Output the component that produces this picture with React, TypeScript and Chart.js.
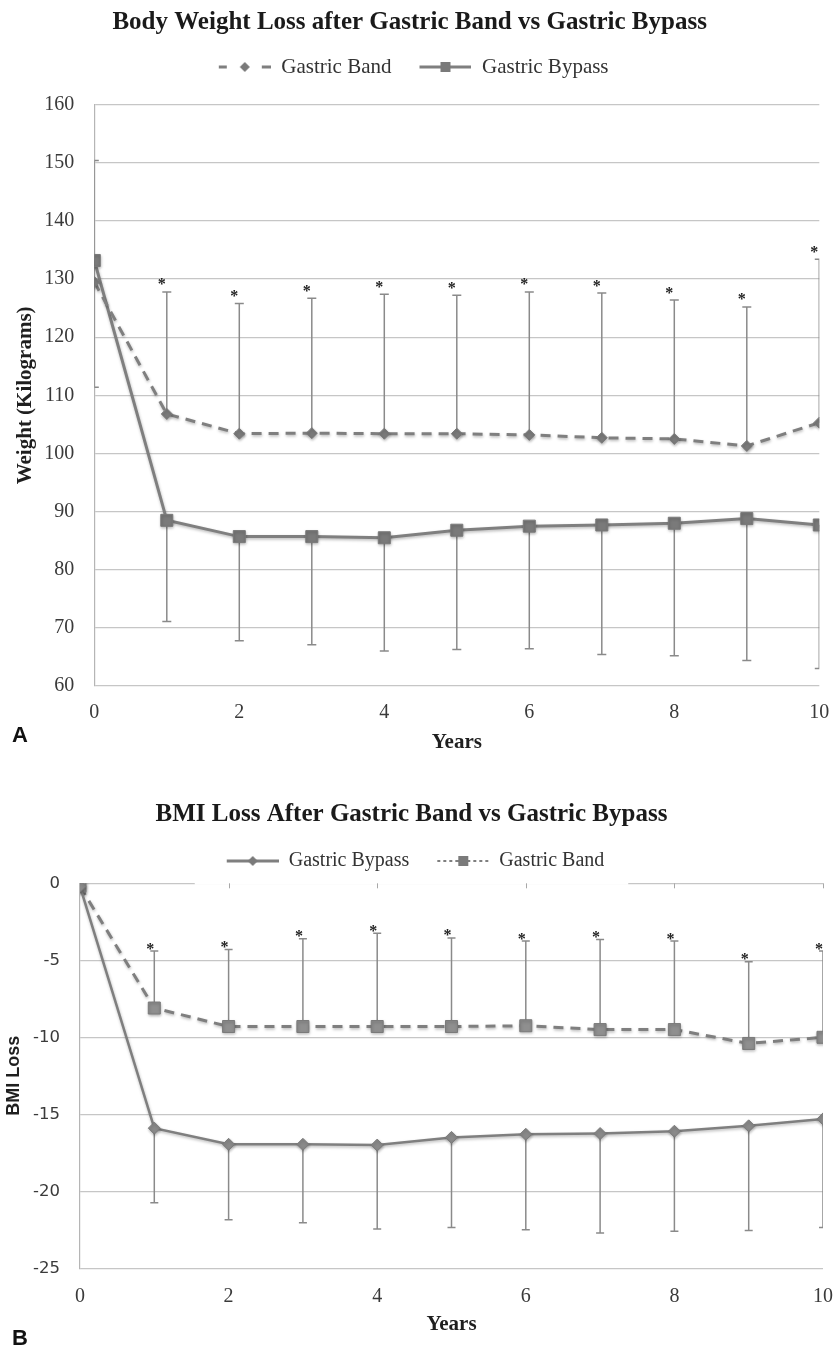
import React, { useEffect, useRef } from 'react';
import { Chart, registerables } from 'chart.js';

Chart.register(...registerables);

// ---------- data ----------
const years = [0, 1, 2, 3, 4, 5, 6, 7, 8, 9, 10];
const yearTicks = [0, 2, 4, 6, 8, 10];

// Panel A: body weight (kg)
const weightTicks = [60, 70, 80, 90, 100, 110, 120, 130, 140, 150, 160];
const bandWeight = [129.5, 106.8, 103.4, 103.5, 103.4, 103.4, 103.2, 102.7, 102.5, 101.3, 105.3];
const bandWeightUpper = [150.4, 127.8, 125.8, 126.7, 127.4, 127.2, 127.8, 127.6, 126.4, 125.2, 133.4];
const bypassWeight = [133.2, 88.5, 85.7, 85.7, 85.5, 86.8, 87.5, 87.7, 88.0, 88.8, 87.7];
const bypassWeightLower = [111.4, 71.1, 67.8, 67.1, 66.0, 66.3, 66.4, 65.4, 65.2, 64.4, 63.0];
const weightStars = [false, true, true, true, true, true, true, true, true, true, true];

// Panel B: BMI loss
const bmiTicks = [-25, -20, -15, -10, -5, 0];
const bypassBMI = [-0.2, -15.9, -16.95, -16.95, -17.0, -16.5, -16.3, -16.25, -16.1, -15.75, -15.3];
const bypassBMILower = [null, -20.75, -21.85, -22.05, -22.45, -22.35, -22.5, -22.7, -22.6, -22.55, -22.35];
const bandBMI = [-0.2, -8.1, -9.3, -9.3, -9.3, -9.3, -9.25, -9.5, -9.5, -10.4, -10.0];
const bandBMIUpper = [null, -4.4, -4.3, -3.6, -3.25, -3.55, -3.75, -3.65, -3.75, -5.1, -4.4];
const bmiStars = [false, true, true, true, true, true, true, true, true, true, true];

// ---------- styles ----------
const SERIF = '"Liberation Serif", "Times New Roman", serif';
const SANS = '"DejaVu Sans", "Liberation Sans", sans-serif';
const LINE = '#7f7f7f';
const MARK = '#7a7a7a';
const GRID = '#c6c6c6';
const BAR = '#8a8a8a';

type IconKind = 'dashDiamond' | 'lineSquare' | 'lineDiamond' | 'dashSquare';

function makeIcon(kind: IconKind): HTMLCanvasElement {
  const c = document.createElement('canvas');
  c.width = 60;
  c.height = 18;
  const g = c.getContext('2d')!;
  const x0 = 8;
  const x1 = 60;
  const cy = 9;
  const cx = (x0 + x1) / 2;
  g.strokeStyle = LINE;
  g.fillStyle = MARK;
  g.lineWidth = kind === 'dashSquare' ? 2 : 3;
  if (kind === 'dashDiamond') {
    g.beginPath();
    g.moveTo(x0, cy); g.lineTo(x0 + 8, cy);
    g.moveTo(x1 - 9, cy); g.lineTo(x1, cy);
    g.stroke();
  } else if (kind === 'dashSquare') {
    g.setLineDash([3, 3]);
    g.beginPath();
    g.moveTo(x0, cy); g.lineTo(x1, cy);
    g.stroke();
    g.setLineDash([]);
  } else {
    g.beginPath();
    g.moveTo(x0, cy); g.lineTo(x1, cy);
    g.stroke();
  }
  g.beginPath();
  if (kind === 'dashDiamond' || kind === 'lineDiamond') {
    g.moveTo(cx, cy - 5); g.lineTo(cx + 5, cy); g.lineTo(cx, cy + 5); g.lineTo(cx - 5, cy); g.closePath();
  } else {
    g.rect(cx - 5, cy - 5, 10, 10);
  }
  g.fill();
  return c;
}

type BarSet = { datasetIndex: number; ends: (number | null)[] };

function makeErrorBarPlugin(sets: BarSet[], starSet: number, stars: boolean[], cap: number, starDx: number, starDy: number) {
  return {
    id: 'errorBars',
    beforeDatasetsDraw(chart: any) {
      const { ctx, chartArea } = chart;
      const yScale = chart.scales.y;
      ctx.save();
      ctx.beginPath();
      ctx.rect(chartArea.left, chartArea.top, chartArea.right - chartArea.left, chartArea.bottom - chartArea.top);
      ctx.clip();
      ctx.strokeStyle = BAR;
      ctx.lineWidth = 1.5;
      sets.forEach((set) => {
        const meta = chart.getDatasetMeta(set.datasetIndex);
        set.ends.forEach((end, i) => {
          if (end == null) return;
          const pt = meta.data[i];
          const x = pt.x;
          const y1 = yScale.getPixelForValue(end);
          ctx.beginPath();
          ctx.moveTo(x, pt.y);
          ctx.lineTo(x, y1);
          ctx.moveTo(x - cap, y1);
          ctx.lineTo(x + cap, y1);
          ctx.stroke();
        });
      });
      ctx.restore();
    },
    beforeDatasetDraw(chart: any) {
      const ctx = chart.ctx;
      ctx.save();
      ctx.shadowColor = 'rgba(0,0,0,0.28)';
      ctx.shadowBlur = 3;
      ctx.shadowOffsetX = 0.5;
      ctx.shadowOffsetY = 1.5;
    },
    afterDatasetDraw(chart: any) {
      chart.ctx.restore();
    },
    afterDatasetsDraw(chart: any) {
      const { ctx } = chart;
      const yScale = chart.scales.y;
      const set = sets[starSet];
      const meta = chart.getDatasetMeta(set.datasetIndex);
      ctx.save();
      ctx.fillStyle = '#222';
      ctx.font = `bold 16px ${SERIF}`;
      ctx.textAlign = 'center';
      ctx.textBaseline = 'alphabetic';
      stars.forEach((s, i) => {
        const end = set.ends[i];
        if (!s || end == null) return;
        const x = meta.data[i].x;
        const y = yScale.getPixelForValue(end);
        ctx.fillText('*', x + starDx, y + starDy);
      });
      ctx.restore();
    },
  };
}

const zeroAxisPlugin = {
  id: 'zeroAxis',
  beforeDatasetsDraw(chart: any) {
    const { ctx } = chart;
    const y = chart.scales.y.getPixelForValue(0);
    const xs = chart.scales.x;
    const boxes = chart.legend && chart.legend.legendHitBoxes;
    ctx.save();
    if (boxes && boxes.length) {
      const last = boxes[boxes.length - 1];
      const l = boxes[0].left - 24;
      const r = last.left + last.width + 24;
      ctx.fillStyle = '#ffffff';
      ctx.fillRect(l, y - 2, r - l, 3.5);
    }
    ctx.strokeStyle = '#a8a8a8';
    ctx.lineWidth = 1;
    xs.ticks.forEach((t: any) => {
      const x = Math.round(xs.getPixelForValue(t.value)) + 0.5;
      ctx.beginPath();
      ctx.moveTo(x, y);
      ctx.lineTo(x, y + 5);
      ctx.stroke();
    });
    ctx.restore();
  },
};

function legendOptions(icons: HTMLCanvasElement[], size: number) {
  return {
    display: true,
    position: 'top' as const,
    labels: {
      usePointStyle: true,
      pointStyleWidth: 60,
      padding: 20,
      color: '#333',
      font: { family: SERIF, size },
      generateLabels: (chart: any) =>
        chart.data.datasets.map((ds: any, i: number) => ({
          text: ds.label,
          pointStyle: icons[i],
          fillStyle: 'transparent',
          strokeStyle: 'transparent',
          lineWidth: 0,
          hidden: false,
          datasetIndex: i,
          fontColor: '#333',
        })),
    },
  };
}

function toPoints(vals: (number | null)[]) {
  return years.map((x, i) => ({ x, y: vals[i] }));
}

function xScale(padding: number, height: number, titleBottom: number) {
  return {
    type: 'linear' as const,
    min: 0,
    max: 10,
    afterBuildTicks: (s: any) => {
      s.ticks = yearTicks.map((v) => ({ value: v }));
    },
    grid: { display: false, drawTicks: false },
    border: { display: false },
    ticks: { color: '#3a3a3a', padding, font: { family: SERIF, size: 20 } },
    title: {
      display: true,
      text: 'Years',
      color: '#1f1f1f',
      font: { family: SERIF, size: 21, weight: 'bold' as const },
      padding: { top: 0, bottom: titleBottom },
    },
    afterFit: (s: any) => {
      s.height = height;
      s.paddingLeft = 0;
      s.paddingRight = 0;
    },
  };
}

function gapScale(h: number) {
  return {
    type: 'linear' as const,
    position: 'top' as const,
    display: true,
    grid: { display: false, drawTicks: false },
    border: { display: false },
    ticks: { display: false },
    afterFit: (s: any) => {
      s.height = h;
      s.paddingLeft = 0;
      s.paddingRight = 0;
    },
  };
}

export default function App() {
  const refA = useRef<HTMLCanvasElement>(null);
  const refB = useRef<HTMLCanvasElement>(null);

  useEffect(() => {
    const iconsA = [makeIcon('dashDiamond'), makeIcon('lineSquare')];
    const iconsB = [makeIcon('lineDiamond'), makeIcon('dashSquare')];

    const chartA = new Chart(refA.current!, {
      type: 'line',
      data: {
        datasets: [
          {
            label: 'Gastric Band',
            data: toPoints(bandWeight),
            borderColor: LINE,
            borderWidth: 3,
            borderDash: [10, 7],
            pointStyle: 'rectRot',
            pointRadius: 5.5,
            pointBackgroundColor: MARK,
            pointBorderColor: MARK,
            pointBorderWidth: 1,
            tension: 0,
          } as any,
          {
            label: 'Gastric Bypass',
            data: toPoints(bypassWeight),
            borderColor: LINE,
            borderWidth: 3,
            pointStyle: 'rect',
            pointRadius: 8.5,
            pointBackgroundColor: MARK,
            pointBorderColor: MARK,
            pointBorderWidth: 1,
            tension: 0,
          } as any,
        ],
      },
      options: {
        animation: false,
        responsive: false,
        layout: { padding: { left: 0, right: 16.7, top: 0, bottom: 0 } },
        plugins: {
          title: {
            display: true,
            text: 'Body Weight Loss after Gastric Band vs Gastric Bypass',
            color: '#1a1a1a',
            font: { family: SERIF, size: 25, weight: 'bold', lineHeight: 1 },
            padding: { top: 10, bottom: 1.5 },
          },
          legend: legendOptions(iconsA, 21) as any,
          tooltip: { enabled: false },
        },
        scales: {
          x: xScale(15, 74, 5) as any,
          gap: gapScale(17.2) as any,
          y: {
            type: 'linear',
            min: 60,
            max: 160,
            afterBuildTicks: (s: any) => {
              s.ticks = weightTicks.map((v) => ({ value: v }));
            },
            grid: { color: GRID, lineWidth: 1.2, drawTicks: false },
            border: { color: '#b5b5b5', width: 1.2 },
            ticks: { color: '#3a3a3a', padding: 20, font: { family: SERIF, size: 20 } },
            title: {
              display: true,
              text: 'Weight (Kilograms)',
              color: '#1f1f1f',
              font: { family: SERIF, size: 21, weight: 'bold' },
              padding: { top: 13.4, bottom: 0 },
            },
            afterFit: (s: any) => {
              s.width = 94.3;
            },
          } as any,
        },
      },
      plugins: [
        makeErrorBarPlugin(
          [
            { datasetIndex: 0, ends: bandWeightUpper },
            { datasetIndex: 1, ends: bypassWeightLower },
          ],
          0,
          weightStars,
          4.5,
          -5,
          -2.5
        ) as any,
      ],
    });

    const chartB = new Chart(refB.current!, {
      type: 'line',
      data: {
        datasets: [
          {
            label: 'Gastric Bypass',
            data: toPoints(bypassBMI),
            borderColor: LINE,
            borderWidth: 2.5,
            pointStyle: 'rectRot',
            pointRadius: 6,
            pointBackgroundColor: '#8a8a8a',
            pointBorderColor: MARK,
            pointBorderWidth: 1,
            tension: 0,
          } as any,
          {
            label: 'Gastric Band',
            data: toPoints(bandBMI),
            borderColor: LINE,
            borderWidth: 3,
            borderDash: [10, 7],
            pointStyle: 'rect',
            pointRadius: 8.5,
            pointBackgroundColor: '#8f8f8f',
            pointBorderColor: MARK,
            pointBorderWidth: 1,
            tension: 0,
          } as any,
        ],
      },
      options: {
        animation: false,
        responsive: false,
        layout: { padding: { left: 0, right: 13, top: 0, bottom: 0 } },
        plugins: {
          title: {
            display: true,
            text: 'BMI Loss After Gastric Band vs Gastric Bypass',
            color: '#1a1a1a',
            font: { family: SERIF, size: 25, weight: 'bold', lineHeight: 1 },
            padding: { top: 22.5, bottom: 3.5 },
          },
          legend: legendOptions(iconsB, 20) as any,
          tooltip: { enabled: false },
        },
        scales: {
          x: xScale(16, 82.7, 13.5) as any,
          gap: gapScale(2.3) as any,
          y: {
            type: 'linear',
            min: -25,
            max: 0,
            afterBuildTicks: (s: any) => {
              s.ticks = bmiTicks.map((v) => ({ value: v }));
            },
            grid: { color: GRID, lineWidth: 1.2, drawTicks: false },
            border: { color: '#b5b5b5', width: 1.2 },
            ticks: { color: '#3a3a3a', padding: 20, font: { family: SANS, size: 16.5 } },
            title: {
              display: true,
              text: 'BMI Loss',
              color: '#1f1f1f',
              font: { family: '"Liberation Sans", Arial, sans-serif', size: 18, weight: 'bold' },
              padding: { top: 3.7, bottom: 0 },
            },
            afterFit: (s: any) => {
              s.width = 80;
            },
          } as any,
        },
      },
      plugins: [
        zeroAxisPlugin as any,
        makeErrorBarPlugin(
          [
            { datasetIndex: 1, ends: bandBMIUpper },
            { datasetIndex: 0, ends: bypassBMILower },
          ],
          0,
          bmiStars,
          4,
          -4,
          2.5
        ) as any,
      ],
    });

    return () => {
      chartA.destroy();
      chartB.destroy();
    };
  }, []);

  const panelLetter: React.CSSProperties = {
    position: 'absolute',
    left: 12,
    font: 'bold 22px "Liberation Sans", Arial, sans-serif',
    lineHeight: '22px',
    color: '#111',
  };

  return (
    <div style={{ position: 'absolute', left: 0, top: 0, width: 836, height: 1351, background: '#fff', overflow: 'hidden' }}>
      <canvas ref={refA} width={836} height={760} style={{ position: 'absolute', left: 0, top: 0 }} />
      <canvas ref={refB} width={836} height={571} style={{ position: 'absolute', left: 0, top: 780 }} />
      <div style={{ ...panelLetter, top: 724 }}>A</div>
      <div style={{ ...panelLetter, top: 1327 }}>B</div>
    </div>
  );
}
